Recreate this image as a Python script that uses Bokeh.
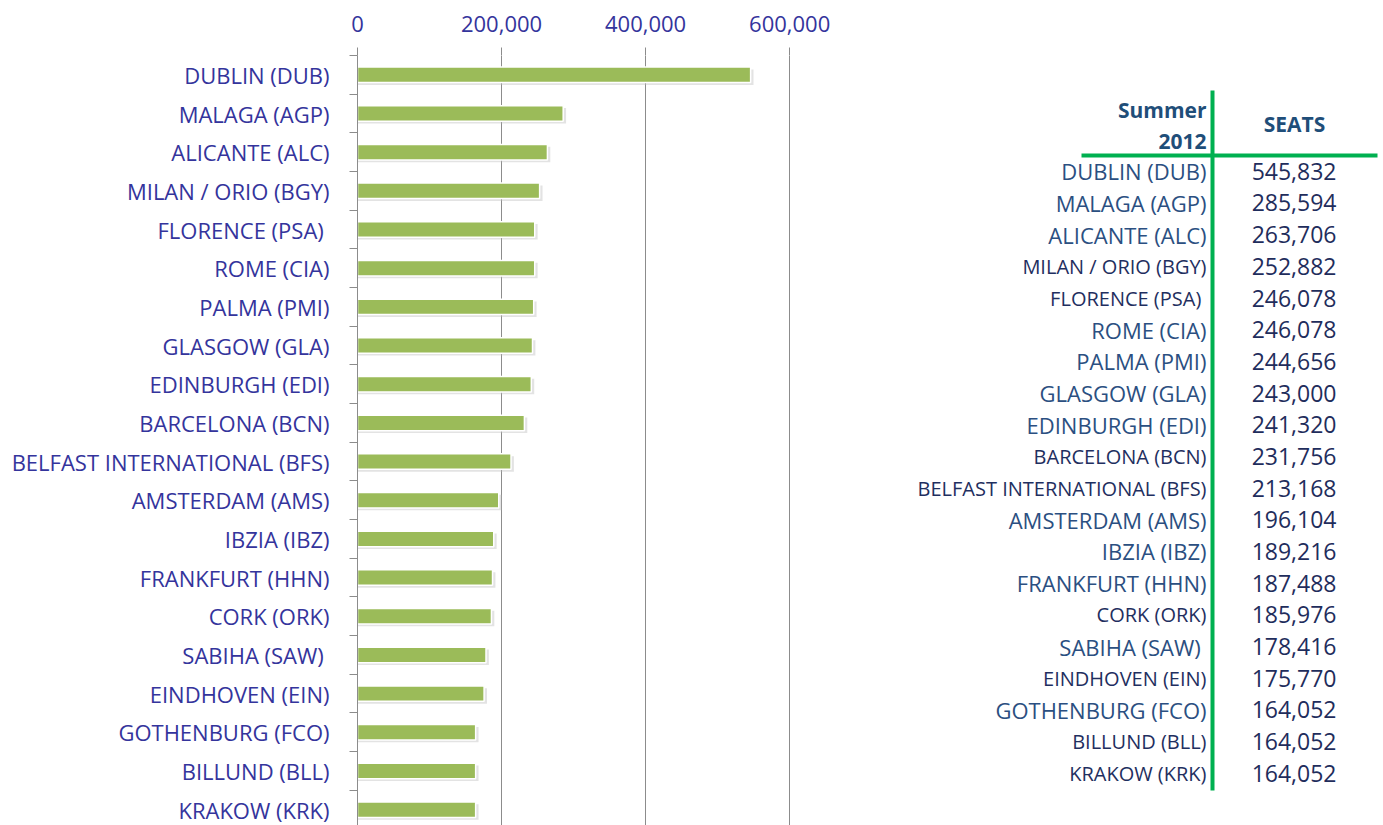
from bokeh.plotting import figure
from bokeh.models import Range1d, FixedTicker, ColumnDataSource, NumeralTickFormatter
from bokeh.layouts import row
from bokeh.transform import dodge
from bokeh.embed import file_html
from bokeh.resources import INLINE
from bokeh.core.properties import value

# ---------------- data ----------------
airports = [
    "DUBLIN (DUB)", "MALAGA (AGP)", "ALICANTE (ALC)", "MILAN / ORIO (BGY)",
    "FLORENCE (PSA) ", "ROME (CIA)", "PALMA (PMI)", "GLASGOW (GLA)",
    "EDINBURGH (EDI)", "BARCELONA (BCN)", "BELFAST INTERNATIONAL (BFS)",
    "AMSTERDAM (AMS)", "IBZIA (IBZ)", "FRANKFURT (HHN)", "CORK (ORK)",
    "SABIHA (SAW) ", "EINDHOVEN (EIN)", "GOTHENBURG (FCO)", "BILLUND (BLL)",
    "KRAKOW (KRK)",
]
seats = [
    545832, 285594, 263706, 252882, 246078, 246078, 244656, 243000, 241320,
    231756, 213168, 196104, 189216, 187488, 185976, 178416, 175770, 164052,
    164052, 164052,
]
x_ticks = [0, 200000, 400000, 600000]
header_left = ["Summer", "2012"]
header_right = "SEATS"

# ---------------- styles ----------------
FONT = "Open Sans"
LABEL_COLOR = "#34349c"
GRID_COLOR = "#8c8c8c"
BAR_COLOR = "#9bbb59"
GREEN_LINE = "#00b050"
small_rows = {"MILAN / ORIO (BGY)", "FLORENCE (PSA) ", "BARCELONA (BCN)",
              "BELFAST INTERNATIONAL (BFS)", "CORK (ORK)", "EINDHOVEN (EIN)",
              "BILLUND (BLL)", "KRAKOW (KRK)"}

n = len(airports)
ypos = [n - 1 - i for i in range(n)]
src = ColumnDataSource(dict(y=ypos, seats=seats, name=airports))

TOP = 55
H = 825

# ---------------- bar chart ----------------
p = figure(width=838, height=H,
           x_range=Range1d(0, 601200), y_range=Range1d(-0.41, n - 0.5),
           x_axis_location="above", output_backend="svg", toolbar_location=None,
           min_border_left=357, min_border_right=48, min_border_top=TOP,
           min_border_bottom=0)
p.outline_line_color = None
p.background_fill_color = "white"

# shadow then bar
p.hbar(y=dodge("y", -0.06), left=0, right=dodge("seats", 4000), height=0.4,
       source=src, fill_color="#b8b8b8", fill_alpha=0.4, line_color=None)
p.hbar(y="y", left=0, right="seats", height=0.4, source=src,
       fill_color=BAR_COLOR, line_color="white", line_width=1.5)

xa = p.xaxis[0]
xa.ticker = FixedTicker(ticks=x_ticks)
xa.formatter = NumeralTickFormatter(format="0,0")
xa.axis_line_color = None
xa.major_tick_out = 8
xa.major_tick_in = 0
xa.major_tick_line_color = GRID_COLOR
xa.minor_tick_line_color = None
xa.major_label_text_font = FONT
xa.major_label_text_font_size = "22px"
xa.major_label_text_color = LABEL_COLOR
xa.major_label_standoff = 16

ya = p.yaxis[0]
ya.ticker = FixedTicker(ticks=ypos, minor_ticks=[k + 0.5 for k in range(-1, n)])
ya.major_label_overrides = {y: name for y, name in zip(ypos, airports)}
ya.axis_line_color = GRID_COLOR
ya.major_tick_line_color = None
ya.major_tick_out = 0
ya.major_tick_in = 0
ya.minor_tick_line_color = GRID_COLOR
ya.minor_tick_out = 8
ya.minor_tick_in = 0
ya.major_label_text_font = FONT
ya.major_label_text_font_size = "22px"
ya.major_label_text_color = LABEL_COLOR
ya.major_label_standoff = 20

p.xgrid.ticker = FixedTicker(ticks=x_ticks)
p.xgrid.grid_line_color = GRID_COLOR
p.ygrid.grid_line_color = None

# ---------------- table ----------------
TW = 542
t = figure(width=TW, height=H, x_range=Range1d(838, 838 + TW),
           y_range=Range1d(H, TOP), output_backend="svg",
           toolbar_location=None, min_border_left=0, min_border_right=0,
           min_border_top=TOP, min_border_bottom=0)
t.axis.visible = False
t.grid.visible = False
t.outline_line_color = None

row0, step = 170.8, 31.68
row_y = [row0 + i * step for i in range(n)]
lab_sizes = ["20px" if a in small_rows else "22px" for a in airports]
lab_colors = ["#1f2f60" if a in small_rows else "#2b4f81" for a in airports]
tsrc = ColumnDataSource(dict(y=row_y, name=airports,
                             val=[f"{v:,}" for v in seats],
                             size=lab_sizes, color=lab_colors))

t.text(x=1206, y="y", text="name", source=tsrc, text_align="right",
       text_baseline="middle", text_font=value(FONT),
       text_font_size="size", text_color="color")
t.text(x=1336, y="y", text="val", source=tsrc, text_align="right",
       text_baseline="middle", text_font=value(FONT),
       text_font_size="23px", text_color="#1f2d5c")

t.text(x=[1206, 1206], y=[109, 141], text=header_left, text_align="right",
       text_baseline="middle", text_font=value(FONT), text_font_size="21px",
       text_font_style="bold", text_color="#1f4e79")
t.text(x=[1294], y=[123], text=[header_right], text_align="center",
       text_baseline="middle", text_font=value(FONT), text_font_size="21px",
       text_font_style="bold", text_color="#1f4e79")

t.segment(x0=[1212], y0=[90], x1=[1212], y1=[790], line_color=GREEN_LINE,
          line_width=4)
t.segment(x0=[1081], y0=[155], x1=[1377], y1=[155], line_color=GREEN_LINE,
          line_width=4)

layout = row(p, t)
open("out.html", "w").write(file_html(layout, INLINE))
